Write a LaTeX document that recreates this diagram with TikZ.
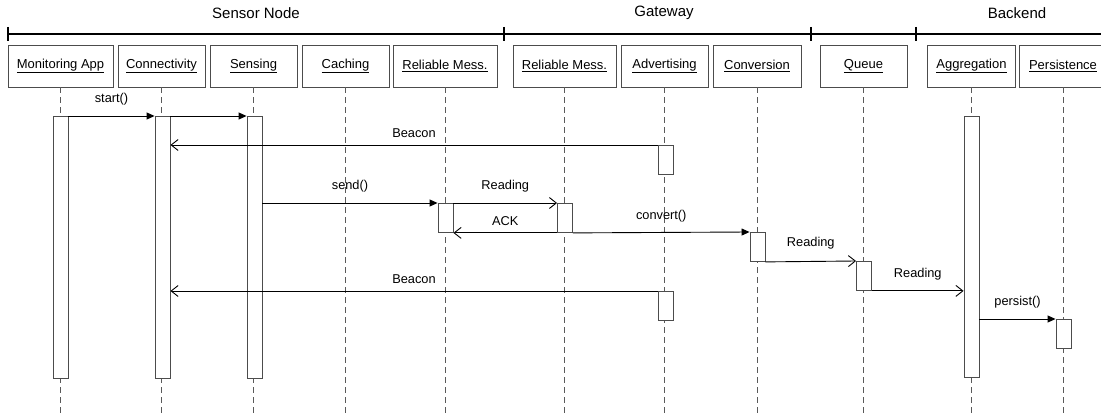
\documentclass[tikz,border=0pt]{standalone}
\usepackage{fontspec}
\setmainfont{Liberation Sans}
\usetikzlibrary{arrows.meta,calc}
\begin{document}
\begin{tikzpicture}[x=1pt,y=-1pt,
 obj/.style={draw=black!70, line width=0.9pt, minimum height=42pt, inner sep=0pt, font=\fontsize{13}{15}\selectfont},
 life/.style={draw=black!65, dash pattern=on 6pt off 4pt, line width=0.8pt},
 act/.style={draw=black!70, fill=white, line width=0.9pt, minimum width=15pt, inner sep=0pt, anchor=north},
 call/.style={draw=black, line width=0.9pt, -{Triangle[length=8pt,width=7pt]}},
 reply/.style={draw=black, line width=0.9pt, -{Straight Barb[length=7pt,width=11pt]}},
 lbl/.style={font=\fontsize{12.8}{15}\selectfont, inner sep=0pt},
 grp/.style={font=\fontsize{15}{18}\selectfont, inner sep=0pt},
 gbar/.style={line width=1.4pt, draw=black}
]
\useasboundingbox (0,0) rectangle (1101,414);
\coordinate (bot) at (0,414);

% group bar
\coordinate (g0) at (8,34);
\coordinate (g1) at (504,34);
\coordinate (g2) at (811,34);
\coordinate (g3) at (916,34);
\coordinate (gE) at (1101,34);
\draw[gbar] (g0) -- (gE);
\foreach \g in {g0,g1,g2,g3} \draw[gbar] ($(\g)+(0,-7)$) -- ($(\g)+(0,7)$);
\node[grp] (gsn) at (256,13) {Sensor Node};
\node[grp] (ggw) at (664,13) {Gateway};
\node[grp] (gbe) at (1017,13) {Backend};

% objects
\node[obj, minimum width=105pt] (mon) at (60.5,66) {\underline{Monitoring App}};
\node[obj, minimum width=87pt] (con) at (161.5,66) {\underline{Connectivity}};
\node[obj, minimum width=87pt] (sen) at (253.5,66) {\underline{Sensing}};
\node[obj, minimum width=87pt] (cac) at (345.5,66) {\underline{Caching}};
\node[obj, minimum width=104pt] (rms) at (445,66) {\underline{Reliable Mess.}};
\node[obj, minimum width=103pt] (rmg) at (564.5,66) {\underline{Reliable Mess.}};
\node[obj, minimum width=87pt] (adv) at (664.5,66) {\underline{Advertising}};
\node[obj, minimum width=88pt] (cnv) at (757,66) {\underline{Conversion}};
\node[obj, minimum width=87pt] (que) at (863.5,66) {\underline{Queue}};
\node[obj, minimum width=88pt] (agg) at (971.5,66) {\underline{Aggregation}};
\node[obj, minimum width=88pt] (per) at (1063,66) {\underline{Persistence}};

% lifelines
\foreach \o in {mon,con,sen,cac,rms,rmg,adv,cnv,que,agg,per}
  \draw[life] (\o.south) -- (\o.south |- bot);

% activations
\node[act, minimum height=262pt] (amon) at (60.5,116) {};
\node[act, minimum height=262pt] (acon) at (162.5,116) {};
\node[act, minimum height=262pt] (asen) at (254.5,116) {};
\node[act, minimum height=29pt] (aadv1) at (665.5,145) {};
\node[act, minimum height=29pt] (arms) at (445.5,203) {};
\node[act, minimum height=29pt] (armg) at (565,203) {};
\node[act, minimum height=29pt] (acnv) at (757.5,232) {};
\node[act, minimum height=29pt] (aque) at (864,261) {};
\node[act, minimum height=261pt] (aagg) at (971.5,116) {};
\node[act, minimum height=29pt] (aadv2) at (665.5,291) {};
\node[act, minimum height=29pt] (aper) at (1063.5,319) {};

% messages
\draw[call] (amon.north east) -- (acon.north west) node[lbl, midway, yshift=17pt] {start()};
\draw[call] (acon.north east) -- (asen.north west);
\draw[reply] (aadv1.north west) -- (acon.east |- aadv1.north west) node[lbl, midway, yshift=12pt] {Beacon};
\draw[call] (asen.east |- arms.north west) -- (arms.north west) node[lbl, midway, yshift=17pt] {send()};
\draw[reply] (arms.north east) -- (armg.north west) node[lbl, midway, yshift=17pt] {Reading};
\draw[reply] (armg.south west) -- (arms.south east) node[lbl, midway, yshift=12pt] {ACK};
\draw[call] (armg.south east) -- (acnv.north west) node[lbl, midway, yshift=16pt] {convert()};
\draw[reply] (acnv.south east) -- (aque.north west) node[lbl, midway, yshift=18pt] {Reading};
\draw[reply] (aque.south east) -- (aagg.west |- aque.south east) node[lbl, midway, yshift=17pt] {Reading};
\draw[reply] (aadv2.north west) -- (acon.east |- aadv2.north west) node[lbl, midway, yshift=12pt] {Beacon};
\draw[call] (aagg.east |- aper.north west) -- (aper.north west) node[lbl, midway, yshift=17pt] {persist()};
\end{tikzpicture}
\end{document}
